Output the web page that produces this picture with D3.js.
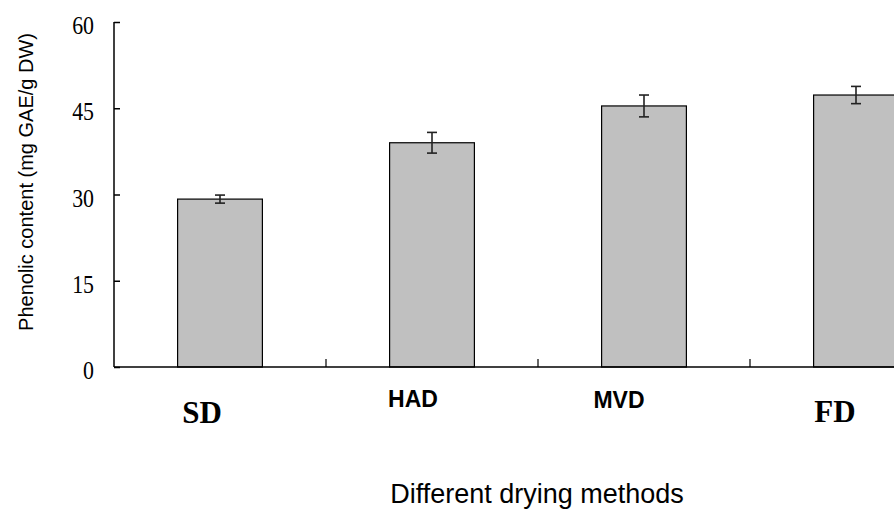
<!DOCTYPE html>
<html>
<head>
<meta charset="utf-8">
<script src="https://cdn.jsdelivr.net/npm/d3@7"></script>
<style>
  body { margin: 0; background: #fff; }
</style>
</head>
<body>
<div id="chart"></div>
<script>
// data
const methods = ['SD', 'HAD', 'MVD', 'FD'];
const phenolic = [29.2, 39.0, 45.4, 47.3];
const errors = [0.7, 1.8, 1.9, 1.5];
const yTicks = [0, 15, 30, 45, 60];

const width = 894;
const height = 510;
const margins = { top: 22, right: -68, bottom: 143, left: 114 };
const innerWidth = width - margins.left - margins.right;
const innerHeight = height - margins.top - margins.bottom;

const svg = d3.select('#chart')
  .append('svg')
  .attr('width', width)
  .attr('height', height)
  .style('display', 'block');

const g = svg.append('g')
  .attr('transform', `translate(${margins.left},${margins.top})`);

const xScale = d3.scaleBand()
  .domain(methods)
  .range([0, innerWidth])
  .padding(0);

const yScale = d3.scaleLinear()
  .domain([0, 60])
  .range([innerHeight, 0]);

const barWidth = xScale.bandwidth() * 0.4;
const data = methods.map((m, i) => ({ method: m, value: phenolic[i], err: errors[i] }));

// bars
g.selectAll('.bar')
  .data(data)
  .enter()
  .append('rect')
  .attr('class', 'bar')
  .attr('x', d => xScale(d.method) + (xScale.bandwidth() - barWidth) / 2)
  .attr('y', d => yScale(d.value))
  .attr('width', barWidth)
  .attr('height', d => innerHeight - yScale(d.value))
  .attr('fill', '#c0c0c0')
  .attr('stroke', '#000')
  .attr('stroke-width', 1.2);

// error bars
const capW = 5;
const cx = d => xScale(d.method) + xScale.bandwidth() / 2;
const eb = g.selectAll('.err')
  .data(data)
  .enter()
  .append('g')
  .attr('class', 'err')
  .attr('stroke', '#222')
  .attr('stroke-width', 1.6);
eb.append('line')
  .attr('x1', cx).attr('x2', cx)
  .attr('y1', d => yScale(d.value + d.err))
  .attr('y2', d => yScale(d.value - d.err));
eb.append('line')
  .attr('x1', d => cx(d) - capW).attr('x2', d => cx(d) + capW)
  .attr('y1', d => yScale(d.value + d.err))
  .attr('y2', d => yScale(d.value + d.err));
eb.append('line')
  .attr('x1', d => cx(d) - capW).attr('x2', d => cx(d) + capW)
  .attr('y1', d => yScale(d.value - d.err))
  .attr('y2', d => yScale(d.value - d.err));

// x axis: line with inward ticks between categories
const xAxis = g.append('g').attr('class', 'x-axis');
xAxis.append('line')
  .attr('x1', 0).attr('x2', innerWidth)
  .attr('y1', innerHeight).attr('y2', innerHeight)
  .attr('stroke', '#000').attr('stroke-width', 1.5);
xAxis.selectAll('.xtick')
  .data(methods.slice(1))
  .enter()
  .append('line')
  .attr('x1', d => xScale(d)).attr('x2', d => xScale(d))
  .attr('y1', innerHeight).attr('y2', innerHeight - 8)
  .attr('stroke', '#000').attr('stroke-width', 1.2);

// category labels (mixed fonts as in the original)
const labelStyle = {
  SD:  { dx: -18, y: 56, font: 'Liberation Serif', size: 31 },
  HAD: { dx: -19, y: 40, font: 'Liberation Sans',  size: 23 },
  MVD: { dx: -25, y: 41, font: 'Liberation Sans',  size: 23 },
  FD:  { dx: -21, y: 55, font: 'Liberation Serif', size: 31 }
};
svg.selectAll('.xlabel')
  .data(methods)
  .enter()
  .append('text')
  .attr('class', 'xlabel')
  .attr('x', d => margins.left + xScale(d) + xScale.bandwidth() / 2 + labelStyle[d].dx)
  .attr('y', d => margins.top + innerHeight + labelStyle[d].y)
  .attr('text-anchor', 'middle')
  .style('font-family', d => labelStyle[d].font)
  .style('font-size', d => labelStyle[d].size + 'px')
  .style('font-weight', 'bold')
  .text(d => d);

// y axis
const yAxis = g.append('g')
  .attr('class', 'y-axis')
  .call(d3.axisRight(yScale).tickValues(yTicks).tickSize(6));
yAxis.selectAll('.tick text').remove();
yAxis.select('.domain')
  .attr('d', `M0,0V${innerHeight}`)
  .attr('stroke-width', 1.5);
yAxis.selectAll('.tick line').attr('stroke-width', 1.5);

// narrow serif tick labels
svg.selectAll('.ylabel')
  .data(yTicks)
  .enter()
  .append('text')
  .attr('class', 'ylabel')
  .attr('x', margins.left - 20)
  .attr('y', d => margins.top + yScale(d) + 12)
  .attr('text-anchor', 'end')
  .style('font-family', 'Liberation Serif')
  .style('font-size', '26px')
  .text(d => d)
  .each(function () {
    const w = this.getComputedTextLength();
    d3.select(this)
      .attr('textLength', w * 0.84)
      .attr('lengthAdjust', 'spacingAndGlyphs');
  });

// axis titles
svg.append('text')
  .attr('transform', `translate(33,182) rotate(-90)`)
  .attr('text-anchor', 'middle')
  .style('font-family', 'Liberation Sans')
  .style('font-size', '20px')
  .text('Phenolic content (mg GAE/g DW)');

svg.append('text')
  .attr('x', 537)
  .attr('y', 503)
  .attr('text-anchor', 'middle')
  .style('font-family', 'Liberation Sans')
  .style('font-size', '27px')
  .text('Different drying methods');
</script>
</body>
</html>
